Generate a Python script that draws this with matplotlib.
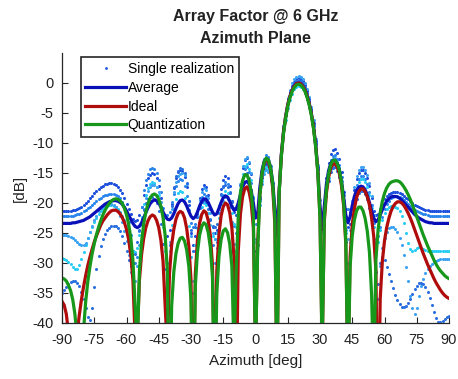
import numpy as np
import matplotlib
matplotlib.use("Agg")
import matplotlib.pyplot as plt
from matplotlib.lines import Line2D

plt.rcParams['font.family'] = ['Liberation Sans', 'DejaVu Sans']
plt.rcParams['axes.unicode_minus'] = False

# azimuth grid in degrees, one sample per degree
azimuth = np.arange(-90, 91)

# ideal array factor [dB]
ideal = [
    -36.4, -37.0, -38.5, -41.5, -60.0, -50.0, -46.2, -41.9, -38.8, -36.2,
    -34.0, -32.1, -30.4, -29.0, -27.7, -26.5, -25.5, -24.6, -23.7, -23.0,
    -22.5, -22.0, -21.6, -21.3, -21.2, -21.2, -21.4, -21.8, -22.4, -23.2,
    -24.4, -26.1, -28.7, -32.9, -42.3, -42.6, -32.9, -28.6, -25.9, -24.1,
    -22.95, -22.3, -22.0, -22.2, -22.9, -24.1, -26.2, -29.7, -37.3, -44.5,
    -31.7, -27.0, -24.4, -22.7, -21.75, -21.4, -21.6, -22.5, -24.25, -27.15,
    -32.8, -60.0, -31.9, -26.2, -23.35, -21.9, -21.3, -21.6, -22.9, -25.4,
    -30.4, -55.0, -31.3, -25.2, -22.15, -20.6, -20.0, -20.3, -21.6, -24.1,
    -29.1, -55.0, -27.9, -21.8, -18.95, -17.6, -17.3, -18.1, -20.0, -24.0,
    -45.0, -26.8, -18.7, -15.2, -13.4, -12.8, -13.15, -14.55, -17.45, -23.5,
    -50.0, -18.2, -12.1, -8.3, -5.7, -3.7, -2.3, -1.25, -0.55, -0.13,
    0.0, -0.13, -0.54, -1.2, -2.2, -3.5, -5.2, -7.45, -10.5, -14.8,
    -22.4, -45.0, -23.1, -18.3, -15.7, -14.2, -13.5, -13.45, -14.0, -15.1,
    -17.15, -20.5, -26.8, -49.4, -28.9, -23.6, -20.95, -19.1, -18.1, -17.65,
    -17.65, -18.1, -19.0, -20.3, -22.5, -25.6, -31.2, -60.0, -36.0, -29.7,
    -26.3, -24.1, -22.6, -21.4, -20.6, -20.1, -19.8, -19.8, -20.0, -20.4,
    -21.0, -21.7, -22.5, -23.4, -24.4, -25.4, -26.4, -27.4, -28.4, -29.3,
    -30.2, -31.0, -31.8, -32.6, -33.3, -33.9, -34.5, -35.0, -35.4, -35.7,
    -35.9]

# quantized phase shifters [dB]
quant = [
    -32.5, -32.65, -33.0, -33.7, -34.6, -36.1, -38.5, -42.4, -51.0, -51.0,
    -41.3, -36.5, -33.1, -30.6, -28.5, -26.8, -25.3, -24.05, -22.96, -22.0,
    -21.24, -20.57, -20.04, -19.65, -19.4, -19.3, -19.37, -19.63, -20.05, -20.86,
    -21.95, -23.55, -25.8, -29.6, -37.1, -44.4, -31.4, -26.5, -23.46, -21.5,
    -20.1, -19.18, -18.65, -18.5, -18.73, -19.37, -20.55, -22.44, -25.5, -31.3,
    -60.0, -37.2, -31.5, -28.4, -26.73, -25.87, -25.73, -26.34, -27.85, -30.6,
    -36.2, -60.0, -33.9, -28.2, -25.35, -23.9, -23.3, -23.6, -24.9, -27.4,
    -32.4, -55.0, -35.0, -28.96, -26.08, -24.66, -24.3, -24.94, -26.8, -30.5,
    -45.0, -31.4, -22.1, -18.26, -16.23, -15.32, -15.3, -16.18, -18.2, -22.0,
    -45.0, -28.0, -18.9, -15.15, -13.22, -12.5, -12.8, -14.1, -16.8, -22.3,
    -50.0, -18.4, -12.3, -8.5, -5.9, -3.9, -2.5, -1.45, -0.75, -0.33,
    -0.2, -0.33, -0.74, -1.4, -2.4, -3.7, -5.4, -7.65, -10.7, -15.0,
    -22.6, -45.0, -22.5, -17.7, -15.1, -13.6, -12.9, -12.85, -13.4, -14.5,
    -16.55, -19.9, -26.2, -50.0, -30.6, -25.47, -22.8, -21.31, -20.68, -20.68,
    -21.28, -22.57, -24.7, -28.2, -35.3, -50.0, -29.5, -24.5, -21.6, -19.7,
    -18.4, -17.5, -16.9, -16.55, -16.4, -16.3, -16.3, -16.45, -16.8, -17.3,
    -17.9, -18.6, -19.4, -20.3, -21.3, -22.3, -23.3, -24.3, -25.3, -26.2,
    -27.1, -27.9, -28.7, -29.5, -30.2, -30.8, -31.3, -31.7, -32.1, -32.4,
    -32.6]

# average over realizations [dB]
average = [
    -23.4, -23.4, -23.4, -23.4, -23.4, -23.3, -23.3, -23.2, -23.1, -23.0,
    -22.9, -22.7, -22.5, -22.3, -22.0, -21.7, -21.4, -21.1, -20.8, -20.5,
    -20.2, -20.0, -19.8, -19.7, -19.6, -19.6, -19.7, -19.9, -20.2, -20.7,
    -21.3, -22.0, -22.7, -23.4, -23.9, -24.1, -23.9, -23.3, -22.5, -21.6,
    -20.8, -20.1, -19.7, -19.5, -19.6, -20.0, -20.7, -21.5, -22.2, -22.7,
    -22.8, -22.5, -21.8, -20.9, -20.1, -19.6, -19.5, -19.8, -20.5, -21.4,
    -22.2, -22.6, -22.3, -21.5, -20.5, -19.7, -19.3, -19.4, -19.9, -20.7,
    -21.5, -22.0, -21.8, -20.9, -19.9, -19.1, -18.8, -19.0, -19.7, -20.6,
    -21.2, -21.0, -20.0, -18.6, -17.3, -16.6, -16.4, -16.8, -18.0, -20.0,
    -22.5, -22.0, -17.5, -14.6, -13.1, -12.6, -12.8, -14.0, -16.5, -21.0,
    -25.5, -18.0, -12.0, -8.2, -5.6, -3.6, -2.2, -1.2, -0.5, -0.1,
    0.0, -0.1, -0.5, -1.1, -2.1, -3.4, -5.1, -7.3, -10.3, -14.5,
    -20.5, -24.5, -20.5, -16.8, -14.6, -13.4, -12.9, -12.9, -13.4, -14.5,
    -16.4, -19.0, -22.0, -23.3, -22.3, -20.4, -18.9, -17.9, -17.4, -17.2,
    -17.3, -17.8, -18.7, -19.9, -21.3, -22.5, -23.1, -22.8, -22.0, -21.1,
    -20.3, -19.7, -19.3, -19.0, -18.9, -18.9, -19.0, -19.2, -19.5, -19.9,
    -20.3, -20.7, -21.1, -21.5, -21.9, -22.2, -22.5, -22.7, -22.9, -23.1,
    -23.2, -23.3, -23.3, -23.4, -23.4, -23.4, -23.4, -23.4, -23.4, -23.4,
    -23.4]

# single realizations [dB]
real_1 = [
    -21.4, -21.4, -21.4, -21.3, -21.3, -21.2, -21.1, -21.0, -20.8, -20.6,
    -20.3, -20.0, -19.6, -19.2, -18.8, -18.4, -18.0, -17.7, -17.4, -17.1,
    -16.9, -16.8, -16.7, -16.7, -16.8, -17.0, -17.3, -17.8, -18.4, -19.2,
    -20.1, -21.0, -21.9, -22.6, -23.0, -22.8, -22.0, -20.6, -18.6, -17.0,
    -15.9, -15.3, -15.0, -15.2, -15.9, -17.1, -19.2, -22.5, -26.5, -25.5,
    -24.5, -20.1, -17.5, -15.8, -14.9, -14.5, -14.7, -15.6, -17.4, -20.3,
    -25.0, -27.0, -25.5, -21.9, -19.1, -17.6, -17.0, -17.3, -18.6, -21.0,
    -24.0, -25.0, -24.5, -20.7, -17.7, -16.1, -15.5, -15.8, -17.1, -19.6,
    -21.5, -22.0, -21.0, -17.0, -14.2, -12.8, -12.5, -13.3, -15.2, -19.2,
    -28.0, -25.5, -19.4, -15.9, -14.1, -13.5, -13.9, -15.3, -18.2, -23.5,
    -28.0, -17.0, -11.3, -7.5, -4.9, -2.9, -1.5, -0.45, 0.25, 0.67,
    0.8, 0.67, 0.26, -0.4, -1.4, -2.7, -4.4, -6.6, -9.7, -14.0,
    -21.0, -30.0, -20.7, -15.9, -13.3, -11.8, -11.1, -11.0, -11.6, -12.7,
    -14.8, -18.1, -22.5, -24.0, -23.5, -20.5, -17.9, -16.0, -15.0, -14.5,
    -14.5, -15.0, -15.9, -17.2, -19.2, -21.3, -22.0, -21.8, -21.0, -20.1,
    -19.4, -18.9, -18.5, -18.3, -18.2, -18.2, -18.2, -18.3, -18.5, -18.8,
    -19.1, -19.4, -19.7, -20.0, -20.3, -20.5, -20.7, -20.9, -21.0, -21.1,
    -21.2, -21.3, -21.3, -21.4, -21.4, -21.4, -21.4, -21.4, -21.4, -21.4,
    -21.4]

real_2 = [
    -22.2, -22.2, -22.2, -22.2, -22.1, -22.1, -22.0, -21.9, -21.8, -21.6,
    -21.4, -21.2, -20.9, -20.6, -20.3, -20.0, -19.7, -19.4, -19.1, -18.9,
    -18.7, -18.6, -18.5, -18.5, -18.5, -18.6, -18.8, -19.2, -19.8, -20.6,
    -21.7, -23.2, -25.3, -28.0, -30.0, -29.0, -24.6, -20.6, -17.9, -16.2,
    -15.1, -14.4, -14.2, -14.3, -15.0, -16.2, -18.2, -20.8, -22.0, -22.0,
    -21.5, -19.8, -18.5, -17.2, -16.3, -16.0, -16.2, -17.1, -18.8, -21.2,
    -23.4, -24.0, -23.5, -21.5, -20.3, -19.0, -18.5, -18.8, -20.0, -22.6,
    -27.0, -30.0, -26.5, -21.6, -18.6, -17.1, -16.5, -16.8, -18.1, -20.5,
    -23.8, -25.0, -23.0, -18.4, -15.6, -14.3, -14.0, -14.8, -16.7, -20.2,
    -23.5, -23.0, -17.7, -14.4, -12.6, -12.0, -12.4, -13.8, -16.7, -22.7,
    -35.0, -17.9, -11.8, -8.0, -5.4, -3.4, -2.0, -0.95, -0.25, 0.17,
    0.3, 0.17, -0.24, -0.9, -1.9, -3.2, -4.9, -7.1, -10.2, -14.4,
    -21.5, -28.0, -21.4, -16.9, -14.3, -12.8, -12.1, -12.0, -12.6, -13.7,
    -15.7, -18.6, -21.0, -21.0, -21.5, -20.5, -18.8, -17.0, -16.0, -15.5,
    -15.5, -16.0, -16.9, -18.2, -20.4, -23.3, -26.0, -25.5, -24.0, -22.3,
    -21.0, -20.1, -19.6, -19.2, -19.0, -18.9, -18.9, -19.0, -19.2, -19.5,
    -19.8, -20.2, -20.5, -20.8, -21.1, -21.3, -21.5, -21.7, -21.8, -21.9,
    -22.0, -22.1, -22.1, -22.2, -22.2, -22.2, -22.2, -22.2, -22.2, -22.2,
    -22.2]

real_3 = [
    -29.2, -29.3, -29.5, -29.8, -30.2, -30.6, -31.0, -31.0, -30.4, -29.4,
    -28.2, -27.0, -25.9, -24.9, -24.0, -23.2, -22.5, -21.9, -21.4, -21.0,
    -20.7, -20.5, -20.4, -20.4, -20.5, -20.7, -21.0, -21.5, -22.1, -22.9,
    -23.9, -25.2, -26.8, -28.0, -28.2, -27.5, -25.3, -22.3, -20.2, -18.6,
    -17.5, -16.8, -16.5, -16.7, -17.4, -18.6, -20.7, -24.0, -28.0, -30.0,
    -28.0, -23.6, -21.0, -19.3, -18.4, -18.0, -18.2, -19.1, -20.9, -23.8,
    -29.0, -33.0, -27.0, -24.2, -22.1, -20.6, -20.0, -20.3, -21.6, -23.6,
    -25.5, -26.0, -25.0, -22.5, -20.1, -18.6, -18.0, -18.3, -19.6, -21.6,
    -23.5, -24.0, -23.0, -17.9, -15.1, -13.8, -13.5, -14.3, -16.2, -20.2,
    -26.5, -24.0, -19.6, -16.3, -14.6, -14.0, -14.4, -15.8, -18.6, -22.5,
    -24.0, -18.0, -12.6, -8.8, -6.2, -4.2, -2.8, -1.75, -1.05, -0.63,
    -0.5, -0.63, -1.04, -1.7, -2.7, -4.0, -5.7, -7.9, -11.0, -15.2,
    -21.5, -25.0, -21.5, -18.1, -15.8, -14.3, -13.6, -13.5, -14.1, -15.2,
    -17.2, -20.3, -25.0, -30.0, -26.5, -22.0, -19.3, -17.5, -16.5, -16.0,
    -16.0, -16.5, -17.4, -18.7, -20.9, -24.0, -27.0, -26.5, -24.5, -22.8,
    -21.7, -21.0, -20.7, -20.5, -20.5, -20.6, -20.9, -21.4, -22.2, -23.4,
    -25.0, -26.6, -27.6, -28.0, -27.8, -27.5, -27.4, -27.5, -27.7, -27.9,
    -28.0, -28.0, -28.0, -28.0, -28.0, -28.0, -28.0, -28.0, -28.0, -28.0,
    -28.0]

real_4 = [
    -25.3, -25.3, -25.4, -25.5, -25.7, -25.9, -26.2, -26.5, -26.8, -27.0,
    -27.0, -26.6, -25.8, -24.8, -23.8, -22.9, -22.1, -21.4, -20.9, -20.5,
    -20.2, -20.0, -20.0, -20.1, -20.3, -20.7, -21.3, -22.1, -23.2, -24.6,
    -26.4, -28.7, -31.5, -33.5, -33.0, -30.5, -27.0, -23.6, -21.0, -19.2,
    -18.0, -17.3, -17.0, -17.0, -17.3, -18.2, -19.9, -22.6, -26.8, -30.0,
    -26.5, -21.0, -18.2, -16.5, -15.5, -15.1, -15.0, -15.4, -16.8, -19.6,
    -25.5, -35.0, -28.0, -22.4, -19.5, -18.1, -17.5, -17.8, -19.1, -21.6,
    -25.0, -26.0, -27.5, -24.0, -21.1, -19.6, -19.0, -19.3, -20.6, -23.1,
    -26.8, -28.0, -22.5, -16.8, -13.9, -12.6, -12.3, -13.1, -15.0, -19.0,
    -26.0, -25.5, -20.3, -16.9, -15.1, -14.5, -14.9, -16.3, -19.2, -24.0,
    -26.0, -16.8, -10.9, -7.1, -4.5, -2.5, -1.1, -0.05, 0.65, 1.07,
    1.2, 1.07, 0.66, 0.0, -1.0, -2.3, -4.0, -6.2, -9.3, -13.6,
    -19.5, -24.0, -21.0, -17.3, -14.8, -13.3, -12.6, -12.5, -13.1, -14.2,
    -16.3, -19.6, -24.5, -26.0, -24.5, -19.7, -17.3, -15.5, -14.5, -14.0,
    -14.0, -14.5, -15.4, -16.7, -18.9, -22.0, -27.5, -36.0, -30.5, -27.5,
    -25.8, -24.8, -24.2, -24.0, -24.0, -24.3, -24.9, -25.8, -27.0, -28.6,
    -30.6, -33.0, -35.5, -37.5, -38.5, -37.5, -35.5, -33.8, -32.6, -31.7,
    -31.0, -30.5, -30.1, -29.8, -29.6, -29.5, -29.4, -29.3, -29.3, -29.3,
    -29.3]

real_5 = [
    -35.0, -34.5, -34.0, -33.5, -33.2, -33.0, -33.0, -33.3, -33.9, -34.8,
    -36.0, -37.5, -39.0, -39.5, -37.5, -34.0, -31.0, -28.8, -27.2, -26.0,
    -25.1, -24.5, -24.1, -23.9, -23.8, -23.9, -24.2, -24.7, -25.5, -26.6,
    -28.0, -29.5, -30.5, -30.0, -28.5, -26.5, -24.5, -22.6, -21.1, -20.0,
    -19.4, -19.0, -19.0, -19.3, -20.0, -21.3, -23.5, -26.8, -31.0, -34.0,
    -27.0, -20.5, -17.3, -15.5, -14.6, -14.2, -14.3, -15.0, -16.7, -19.6,
    -24.5, -28.0, -24.0, -22.3, -20.8, -19.8, -19.5, -19.8, -21.0, -22.8,
    -23.8, -24.0, -23.5, -20.5, -18.5, -17.4, -17.0, -17.3, -18.3, -19.8,
    -20.8, -21.0, -21.5, -18.3, -16.3, -15.2, -15.0, -15.8, -17.8, -22.0,
    -31.5, -27.0, -19.0, -15.5, -13.6, -13.0, -13.4, -14.8, -17.7, -23.5,
    -30.0, -17.5, -11.6, -7.8, -5.2, -3.2, -1.8, -0.75, -0.05, 0.37,
    0.5, 0.37, -0.04, -0.7, -1.7, -3.0, -4.7, -6.9, -10.0, -14.3,
    -21.0, -33.0, -23.5, -18.9, -16.3, -14.8, -14.1, -14.0, -14.6, -15.7,
    -17.8, -21.1, -26.5, -36.0, -28.5, -23.7, -21.1, -19.4, -18.4, -18.0,
    -18.0, -18.5, -19.4, -20.8, -23.0, -26.5, -31.5, -33.5, -30.0, -29.0,
    -29.5, -30.6, -31.8, -33.0, -34.2, -35.3, -36.2, -36.9, -37.3, -37.4,
    -37.2, -36.7, -36.0, -35.2, -34.4, -33.8, -33.4, -33.3, -33.5, -34.0,
    -34.8, -35.8, -37.0, -38.2, -39.2, -39.8, -39.9, -39.7, -39.3, -39.0,
    -38.8]

realizations = [real_1, real_2, real_3, real_4, real_5]
real_colors = ['#1d50dc', '#2b86ec', '#27cdf3', '#3aa2f2', '#2a6fe0']

c_avg = '#0a10b8'
c_ideal = '#b00c0c'
c_quant = '#17981b'
c_axis = '#262626'
c_text = '#222222'

fig = plt.figure(figsize=(4.58, 3.79), dpi=100)
ax = fig.add_axes([62/458, 1 - 323/379, 387/458, 270/379])

for r, c in zip(realizations, real_colors):
    ax.plot(azimuth, r, 'o', ms=2.2, mew=0, color=c)
ax.plot(azimuth, average, color=c_avg, lw=2.3)
ax.plot(azimuth, ideal, color=c_ideal, lw=2.3)
ax.plot(azimuth, quant, color=c_quant, lw=2.3)

ax.set_xlim(-90, 90)
ax.set_ylim(-40, 5)
ax.set_xticks(range(-90, 91, 15))
ax.set_yticks(range(-40, 1, 5))
ax.tick_params(direction='in', length=4, width=0.8, labelsize=10.5,
               colors=c_axis, labelcolor=c_text)
ax.tick_params(axis='x', pad=7)
ax.tick_params(axis='y', pad=6)
for s in ['top', 'right']:
    ax.spines[s].set_visible(False)
for s in ['left', 'bottom']:
    ax.spines[s].set_color(c_axis)
    ax.spines[s].set_linewidth(0.9)

ax.set_xlabel('Azimuth [deg]', fontsize=11, color=c_text, labelpad=5)
ax.set_ylabel('[dB]', fontsize=11, color=c_text, labelpad=4)
ax.set_title('Array Factor @ 6 GHz\nAzimuth Plane', fontsize=11.5,
             fontweight='bold', color=c_text, pad=7, linespacing=1.6)

handles = [
    Line2D([], [], ls='none', marker='o', ms=2, mew=0, color=real_colors[0]),
    Line2D([], [], color=c_avg, lw=2.3),
    Line2D([], [], color=c_ideal, lw=2.3),
    Line2D([], [], color=c_quant, lw=2.3),
]
labels = ['Single realization', 'Average', 'Ideal', 'Quantization']
leg = ax.legend(handles, labels, loc='upper left', bbox_to_anchor=(0.048, 0.984),
                borderaxespad=0, fancybox=False, edgecolor=c_axis, fontsize=10,
                handlelength=2.9, handletextpad=0.15, labelspacing=0.34,
                borderpad=0.35, framealpha=1)
leg.get_frame().set_linewidth(1.2)

fig.savefig('out.png', dpi=100)
